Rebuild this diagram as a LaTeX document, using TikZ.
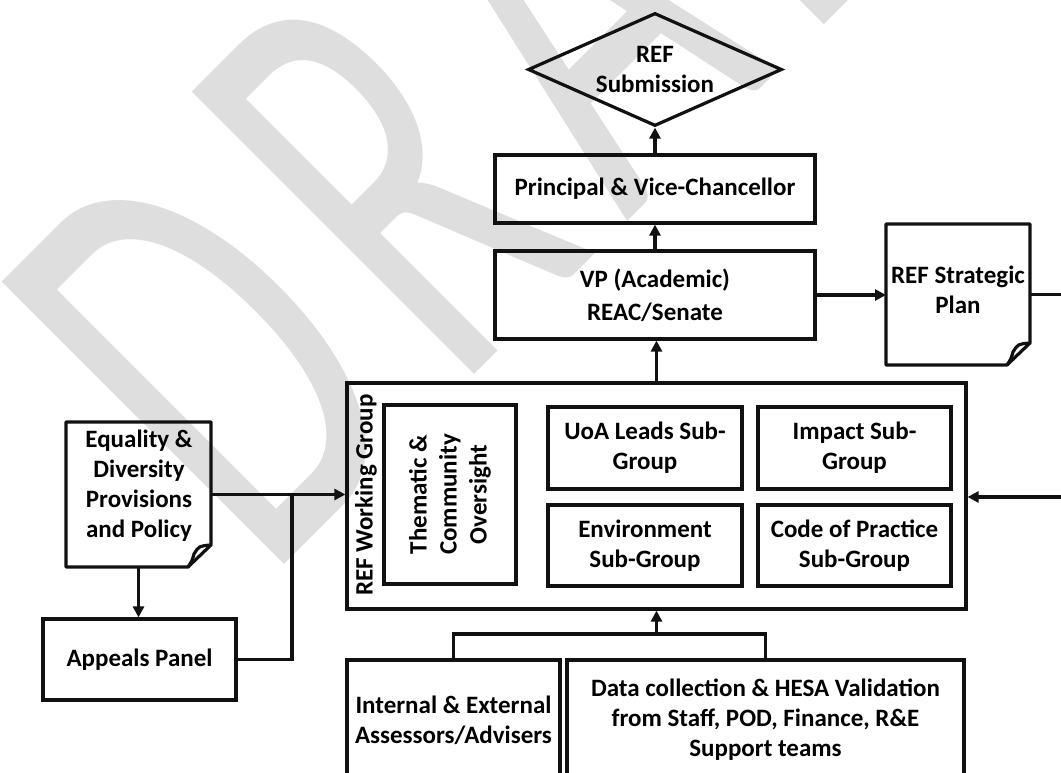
\documentclass[tikz,border=0pt]{standalone}
\usepackage{fontspec}
\setmainfont{Carlito}
\usepackage{graphicx}
\usepackage{tikz}
\usetikzlibrary{arrows.meta,shapes.geometric,calc}
\definecolor{inkmain}{HTML}{111111}
\definecolor{watermark}{HTML}{DEDEDE}
\tikzset{every node/.append style={font=\fontsize{25}{30}\selectfont\bfseries}}
\tikzset{
  box/.style={draw=inkmain,line width=3.2pt,inner sep=0pt,align=center},
  docbox/.style={inner sep=0pt,outer sep=0pt},
  txt/.style={inner sep=0pt,align=center},
  conn/.style={draw=inkmain,line width=3.2pt},
  arr/.style={conn,-{Triangle[length=11pt,width=11pt]}}
}
\newcommand\docfold[1]{%
  \draw[conn,line join=round] (#1.north west) -- (#1.north east) -- ([yshift=22pt]#1.south east) -- ([xshift=-23pt]#1.south east) -- (#1.south west) -- cycle;
  \draw[conn,line join=round] ([yshift=22pt]#1.south east) .. controls ([xshift=-12pt,yshift=21pt]#1.south east) .. ([xshift=-17pt,yshift=13pt]#1.south east) .. controls ([xshift=-19pt,yshift=6pt]#1.south east) .. ([xshift=-23pt]#1.south east);}

\begin{document}
\begin{tikzpicture}[x=1pt,y=-1pt]
\fill[white] (0,0) rectangle (1061,773);
\useasboundingbox (0,0) rectangle (1061,773);
\clip (0,0) rectangle (1061,773);
\node[text=watermark,rotate=45,anchor=base west,inner sep=0pt] (wm) at (266,583) {\scalebox{1}[1.66]{\fontsize{375}{375}\selectfont\mdseries\addfontfeature{LetterSpace=10}DRAFT}};
% top of the chain
\node[box,diamond,aspect=2.2,minimum width=254pt,minimum height=113pt] (sub) at (655,69.5) {REF\\Submission};
\node[box,minimum width=320pt,minimum height=68pt] (pvc) at (655,189) {Principal \& Vice-Chancellor};
\node[box,minimum width=320pt,minimum height=88pt] (vp) at (655,295) {VP (Academic)\\[3pt]REAC/Senate};
\node[docbox,minimum width=144pt,minimum height=141pt] (plan) at (958,294.5) {};
\node[txt] (plantxt) at (958,290) {REF Strategic\\Plan};
% working group
\node[box,minimum width=619pt,minimum height=226pt] (wg) at (656.5,496) {};
\node[txt,rotate=90] (wgtxt) at (366,495) {REF Working Group};
\node[box,rotate=90,minimum width=179pt,minimum height=132pt] (them) at (450,494.5) {Thematic \&\\Community\\Oversight};
\node[box,minimum width=194pt,minimum height=82pt] (uoa) at (645,448) {UoA Leads Sub-\\Group};
\node[box,minimum width=193pt,minimum height=82pt] (imp) at (854.5,448) {Impact Sub-\\Group};
\node[box,minimum width=194pt,minimum height=81pt] (env) at (645,545.5) {Environment\\Sub-Group};
\node[box,minimum width=193pt,minimum height=81pt] (cop) at (854.5,545.5) {Code of Practice\\Sub-Group};
% left side
\node[docbox,minimum width=145pt,minimum height=145pt] (eq) at (138.5,494.5) {};
\node[txt] (eqtxt) at (139,486) {Equality \&\\Diversity\\Provisions\\and Policy};
\node[box,minimum width=193pt,minimum height=81pt] (ap) at (139.5,659.5) {Appeals Panel};
% bottom row
\node[box,minimum width=213pt,minimum height=120pt] (int) at (453.5,720) {Internal \& External\\Assessors/Advisers};
\node[box,minimum width=397pt,minimum height=120pt] (data) at (765.5,720) {Data collection \& HESA Validation\\from Staff, POD, Finance, R\&E\\Support teams};
\docfold{plan}
\docfold{eq}
\coordinate (jL) at (292,494.5);
\coordinate (jB) at (656.5,634);
\coordinate (rin) at (1075,497);
\coordinate (rout) at (1075,294.5);
\draw[arr] (pvc) -- (sub);
\draw[arr] (vp) -- (pvc);
\draw[arr] (wg.north) -- (wg.north |- vp.south);
\draw[arr] (vp.east) -- (vp.east -| plan.west);
\draw[conn] (plan.east |- rout) -- (rout);
\draw[arr] (rin) -- (rin -| wg.east);
\draw[arr] (eq.east) -- (eq.east -| wg.west);
\draw[conn] (ap.east) -| (jL);
\draw[arr] (eq.south) -- (eq.south |- ap.north);
\draw[conn] (int.north) |- (jB) -| (data.north);
\draw[arr] (jB) -- (jB |- wg.south);
\end{tikzpicture}
\end{document}
